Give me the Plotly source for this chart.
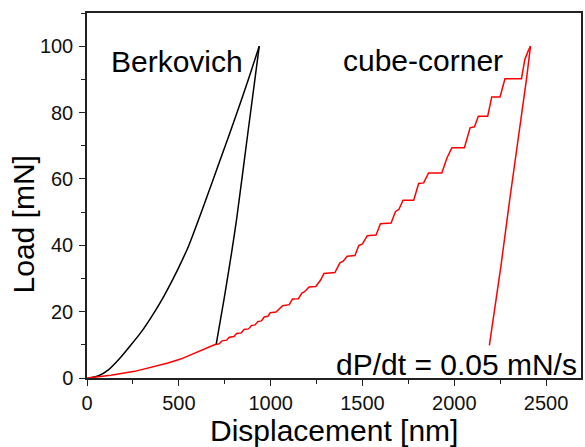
import plotly.graph_objects as go

# Berkovich loading / unloading (displacement nm, load mN)
berk_load_x = [16, 60, 120, 180, 240, 300, 369, 422, 470, 514, 555, 623, 688, 753, 817, 879, 938]
berk_load_y = [0, 0.6, 2.6, 6.0, 10.0, 14.2, 20, 25, 30, 35, 40, 50, 60, 70, 80, 90, 100]
berk_unload_x = [938, 874, 815, 788, 747, 703]
berk_unload_y = [100, 73, 48, 38, 24, 10]

# cube-corner loading (staircase) / unloading
cube_load_x = [0, 130, 260, 350, 441, 510, 568, 630, 694, 720, 735, 760, 775, 800, 815, 840,
               855, 880, 895, 915, 930, 950, 965, 985, 998, 1029, 1065, 1101, 1119, 1151,
               1170, 1185, 1209, 1246, 1273, 1290, 1350, 1377, 1395, 1417, 1459, 1480, 1500,
               1526, 1574, 1598, 1656, 1680, 1698, 1721, 1779, 1806, 1833, 1860, 1932, 1960,
               1987, 2055, 2086, 2110, 2131, 2182, 2204, 2249, 2276, 2366, 2384, 2402, 2415]
cube_load_y = [0, 0.8, 2.0, 3.2, 4.5, 5.7, 7.0, 8.5, 10.0, 10.3, 11.2, 11.4, 12.3, 12.5, 13.4, 13.6,
               14.6, 14.8, 15.8, 16.0, 17.0, 17.2, 18.4, 18.6, 19.7, 19.9, 21.8, 22.1, 23.8, 23.9,
               25.6, 26.0, 27.4, 27.6, 29.6, 31.5, 31.8, 34.7, 35.2, 36.7, 36.9, 39.9, 40.4,
               42.9, 43.1, 46.5, 46.7, 50.2, 50.8, 53.6, 53.6, 58.6, 58.8, 61.8, 61.8, 66.3,
               69.4, 69.4, 75.4, 75.7, 78.9, 78.9, 84.7, 84.7, 90.2, 90.2, 96.0, 98.5, 100]
cube_unload_x = [2415, 2393, 2300, 2254, 2191]
cube_unload_y = [100, 90, 53, 33.7, 9.8]

x_ticks = [0, 500, 1000, 1500, 2000, 2500]
y_ticks = [0, 20, 40, 60, 80, 100]

FONT = "Liberation Sans, Arial, sans-serif"

fig = go.Figure()
fig.add_trace(go.Scatter(x=berk_load_x, y=berk_load_y, mode="lines",
                         line=dict(color="black", width=1.5, shape="spline", smoothing=0.5),
                         showlegend=False))
fig.add_trace(go.Scatter(x=berk_unload_x, y=berk_unload_y, mode="lines",
                         line=dict(color="black", width=1.5, shape="spline", smoothing=0.5),
                         showlegend=False))
fig.add_trace(go.Scatter(x=cube_load_x, y=cube_load_y, mode="lines",
                         line=dict(color="#ff0000", width=1.5), showlegend=False))
fig.add_trace(go.Scatter(x=cube_unload_x, y=cube_unload_y, mode="lines",
                         line=dict(color="#ff0000", width=1.5), showlegend=False))

axis_common = dict(showgrid=False, zeroline=False, showline=True, linecolor="#222",
                   linewidth=1.5, mirror=True, ticks="outside", ticklen=6, tickwidth=1.2,
                   tickcolor="#222", tickfont=dict(family=FONT, size=20, color="#111"))

fig.update_xaxes(range=[0, 2690], tickvals=x_ticks, ticktext=[str(v) for v in x_ticks],
                 minor=dict(ticks="outside", ticklen=4, dtick=250, tick0=0, tickcolor="#222"),
                 **axis_common)
fig.update_yaxes(range=[0, 110], tickvals=y_ticks, ticktext=[str(v) for v in y_ticks],
                 minor=dict(ticks="outside", ticklen=4, dtick=10, tick0=0, tickcolor="#222"),
                 ticklabelstandoff=2, **axis_common)

fig.add_annotation(text="Berkovich", xref="paper", yref="paper", x=0.044, y=0.866,
                   xanchor="left", yanchor="middle", showarrow=False,
                   font=dict(family=FONT, size=30, color="black"))
fig.add_annotation(text="cube-corner", xref="paper", yref="paper", x=0.514, y=0.871,
                   xanchor="left", yanchor="middle", showarrow=False,
                   font=dict(family=FONT, size=30, color="black"))
fig.add_annotation(text="dP/dt = 0.05 mN/s", xref="paper", yref="paper", x=0.996, y=0.036,
                   xanchor="right", yanchor="middle", showarrow=False,
                   font=dict(family=FONT, size=30, color="black"))
fig.add_annotation(text="Load [mN]", xref="paper", yref="paper", x=-0.128, y=0.42,
                   xanchor="center", yanchor="middle", textangle=-90, showarrow=False,
                   font=dict(family=FONT, size=30, color="black"))
fig.add_annotation(text="Displacement [nm]", xref="paper", yref="paper", x=0.5, y=-0.143,
                   xanchor="center", yanchor="middle", showarrow=False,
                   font=dict(family=FONT, size=30, color="black"))

fig.update_layout(width=585, height=447, margin=dict(l=87, r=2, t=13, b=69),
                  plot_bgcolor="white", paper_bgcolor="white")

fig.write_html("out.html", config={"displayModeBar": False},
               post_script="document.body.style.margin='0';document.body.style.overflow='hidden';")
